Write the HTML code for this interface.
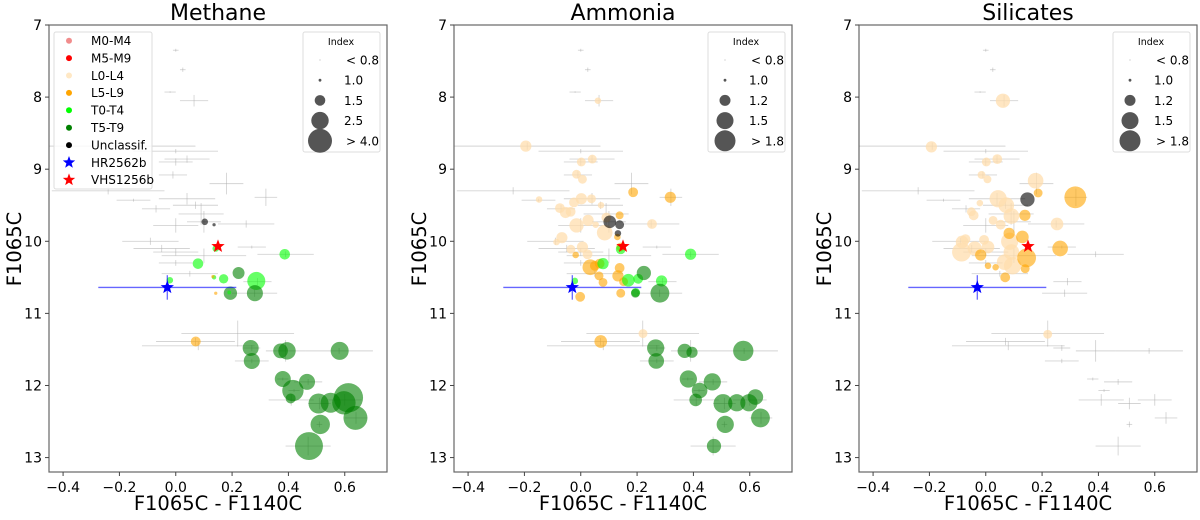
<!DOCTYPE html>
<html><head><meta charset="utf-8"><style>
body{margin:0;background:#fff;width:1200px;height:515px;overflow:hidden}
svg text{font-family:"DejaVu Sans","Liberation Sans",sans-serif}
</style></head><body>
<svg id="c" width="1200" height="515" viewBox="0 0 1200 515" xmlns="http://www.w3.org/2000/svg"></svg>
<script>
const xTicks=[-0.4,-0.2,0.0,0.2,0.4,0.6];
const yTicks=[7,8,9,10,11,12,13];
const panelTitles=["Methane","Ammonia","Silicates"];
const typeNames=["M0-M4","M5-M9","L0-L4","L5-L9","T0-T4","T5-T9","Unclassif."];
const typeColors=["#f08080","#ff0000","#ffdead","#ffa500","#00ff00","#008000","#000000"];
const methaneLegendIdx=[0.8,1.0,1.5,2.5,4.0];
const methaneLegendLabels=["< 0.8","1.0","1.5","2.5","> 4.0"];
const otherLegendIdx=[0.8,1.0,1.2,1.5,1.8];
const otherLegendLabels=["< 0.8","1.0","1.2","1.5","> 1.8"];
// error bars: x, y, xerr, yerr
const errBars=[[0.0,7.35,0.01,0.02],[0.025,7.62,0.01,0.03],[-0.02,7.93,0.02,0.01],[0.065,8.05,0.05,0.08],[-0.19,8.68,0.26,0.05],[0.0,8.75,0.15,0.03],[0.04,8.86,0.08,0.05],[0.0,8.9,0.06,0.05],[-0.01,9.08,0.05,0.05],[0.18,9.2,0.06,0.15],[-0.24,9.3,0.2,0.05],[0.32,9.39,0.04,0.12],[-0.15,9.43,0.06,0.02],[0.04,9.41,0.1,0.08],[0.07,9.5,0.08,0.05],[0.09,9.62,0.08,0.15],[-0.07,9.55,0.05,0.05],[0.0,9.78,0.08,0.1],[0.1,9.73,0.06,0.15],[0.25,9.76,0.1,0.05],[-0.09,10.0,0.1,0.05],[-0.05,10.1,0.1,0.05],[0.0,10.15,0.08,0.05],[0.27,10.08,0.05,0.02],[0.39,10.18,0.1,0.04],[0.1,10.2,0.15,0.1],[0.0,10.3,0.06,0.04],[0.05,10.45,0.1,0.04],[0.29,10.56,0.05,0.05],[0.28,10.72,0.08,0.05],[0.07,11.39,0.14,0.05],[0.22,11.28,0.2,0.18],[0.08,11.45,0.2,0.06],[0.27,11.48,0.03,0.04],[0.27,11.66,0.06,0.03],[0.39,11.52,0.07,0.15],[0.58,11.52,0.12,0.04],[0.38,11.91,0.02,0.02],[0.47,11.95,0.05,0.04],[0.42,12.07,0.02,0.02],[0.41,12.2,0.08,0.08],[0.51,12.25,0.04,0.08],[0.6,12.2,0.06,0.08],[0.64,12.45,0.04,0.08],[0.51,12.54,0.01,0.04],[0.47,12.84,0.08,0.13]];
// points: x, y, typeIndex, index value
const methanePts=[[0.103,9.73,6,1.24],[0.136,9.77,6,1.03],[0.142,10.10,4,1.24],[0.079,10.31,4,1.5],[0.387,10.18,4,1.5],[0.17,10.52,4,1.42],[0.136,10.50,4,1.1],[-0.021,10.54,4,1.24],[0.286,10.55,4,2.64],[0.223,10.44,5,1.7],[0.194,10.72,5,1.9],[0.19,10.71,4,1.07],[0.281,10.72,5,2.3],[0.266,11.48,5,2.3],[0.27,11.66,5,2.3],[0.372,11.52,5,2.1],[0.395,11.52,5,2.5],[0.582,11.52,5,2.64],[0.38,11.91,5,2.3],[0.416,12.07,5,3.4],[0.466,11.95,5,2.3],[0.408,12.18,5,1.46],[0.507,12.25,5,3.1],[0.55,12.24,5,3.1],[0.613,12.17,5,5.2],[0.597,12.24,5,3.86],[0.638,12.45,5,4.0],[0.513,12.54,5,2.95],[0.473,12.84,5,4.9],[0.071,11.39,3,1.46],[0.132,10.49,3,1.03],[0.142,10.72,3,1.03]];
const ammoniaPts=[[-0.195,8.68,2,1.17],[0.061,8.05,2,1.07],[0.002,8.90,2,1.12],[0.041,8.86,2,1.12],[-0.015,9.07,2,1.12],[0.006,9.14,2,1.12],[-0.148,9.42,2,1.07],[-0.024,9.46,2,1.14],[0.002,9.41,2,1.17],[0.038,9.41,2,1.12],[0.072,9.5,2,1.07],[-0.074,9.54,2,1.14],[-0.054,9.6,2,1.17],[-0.036,9.59,2,1.14],[-0.015,9.78,2,1.27],[0.026,9.71,2,1.17],[0.053,9.77,2,1.07],[0.085,9.88,2,1.33],[0.091,9.67,2,1.14],[0.253,9.76,2,1.14],[-0.067,9.95,2,1.17],[-0.086,10.01,2,1.07],[-0.035,10.11,2,1.12],[0.006,10.08,2,1.17],[0.024,10.18,2,1.14],[0.221,11.28,2,1.12],[0.186,9.32,3,1.14],[0.318,9.39,3,1.17],[0.138,9.64,3,1.1],[0.13,9.94,3,1.07],[0.142,10.08,3,1.12],[-0.018,10.19,3,1.07],[0.034,10.36,3,1.33],[0.067,10.31,3,1.14],[0.05,10.34,3,1.14],[0.138,10.37,3,1.14],[0.132,10.48,3,1.17],[0.065,10.48,3,1.12],[0.079,10.57,3,1.12],[0.152,10.56,3,1.12],[0.142,10.72,3,1.12],[-0.002,10.77,3,1.14],[0.071,11.39,3,1.2],[0.103,9.73,6,1.2],[0.138,9.77,6,1.12],[0.132,9.89,6,1.07],[0.142,10.11,4,1.14],[0.079,10.31,4,1.17],[0.39,10.18,4,1.17],[0.169,10.54,4,1.2],[0.204,10.52,4,1.14],[-0.021,10.55,4,1.07],[0.287,10.55,4,1.17],[0.195,10.71,4,1.12],[0.224,10.44,5,1.27],[0.194,10.72,5,1.12],[0.281,10.72,5,1.47],[0.266,11.48,5,1.4],[0.268,11.66,5,1.33],[0.369,11.52,5,1.27],[0.395,11.54,5,1.17],[0.577,11.52,5,1.55],[0.382,11.91,5,1.4],[0.422,12.07,5,1.33],[0.467,11.95,5,1.4],[0.408,12.2,5,1.2],[0.505,12.25,5,1.47],[0.554,12.24,5,1.4],[0.62,12.16,5,1.33],[0.597,12.24,5,1.4],[0.638,12.45,5,1.47],[0.513,12.54,5,1.4],[0.473,12.84,5,1.27]];
const silicatePts=[[0.061,8.05,2,1.27],[-0.193,8.69,2,1.17],[0.002,8.9,2,1.12],[0.041,8.86,2,1.14],[-0.015,9.08,2,1.1],[0.006,9.14,2,1.1],[0.177,9.16,2,1.33],[-0.021,9.47,2,1.07],[0.044,9.41,2,1.4],[0.073,9.5,2,1.33],[-0.051,9.59,2,1.12],[-0.043,9.64,2,1.14],[0.091,9.65,2,1.33],[0.026,9.71,2,1.12],[0.053,9.77,2,1.14],[0.253,9.76,2,1.2],[-0.084,10.01,2,1.2],[-0.072,9.97,2,1.14],[-0.086,10.15,2,1.47],[-0.039,10.1,2,1.27],[-0.006,9.98,2,1.14],[0.008,10.08,2,1.2],[0.085,10.0,2,1.4],[0.091,10.15,2,1.33],[0.067,10.29,2,1.33],[0.095,10.34,2,1.4],[0.22,11.29,2,1.12],[0.186,9.33,3,1.12],[0.318,9.39,3,1.65],[0.139,9.64,3,1.17],[0.083,9.89,3,1.17],[0.13,9.94,3,1.2],[0.145,10.23,3,1.47],[0.264,10.1,3,1.33],[-0.018,10.19,3,1.17],[0.008,10.34,3,1.07],[0.035,10.36,3,1.07],[0.069,10.5,3,1.14],[0.14,10.38,3,1.12],[0.148,9.42,6,1.27]];
const hr2562=[-0.03,10.64,0.245,0.17];
const vhs1256=[0.15,10.07];

const svg=document.getElementById('c');
const NS='http://www.w3.org/2000/svg';
function mk(tag,attrs,parent){const e=document.createElementNS(NS,tag);for(const k in attrs)e.setAttribute(k,attrs[k]);parent.appendChild(e);return e;}
const legendRadii=[0.5,1.4,5.3,8.7,12];
const legendRadiiO=[0.5,1.4,5.5,8.5,10.5];
function radius(idx,tbl,rad){
  if(idx<=tbl[0])return rad[0];
  for(let i=1;i<tbl.length;i++){if(idx<=tbl[i]){const t=(idx-tbl[i-1])/(tbl[i]-tbl[i-1]);return rad[i-1]+t*(rad[i]-rad[i-1]);}}
  const n=tbl.length-1;return rad[n]+(idx-tbl[n])*(rad[n]-rad[n-1])/(tbl[n]-tbl[n-1]);
}
function starPath(cx,cy,R){const r=R*0.42;let d='';for(let i=0;i<10;i++){const a=-Math.PI/2+i*Math.PI/5;const rr=i%2?r:R;d+=(i?'L':'M')+(cx+rr*Math.cos(a)).toFixed(2)+','+(cy+rr*Math.sin(a)).toFixed(2);}return d+'Z';}

const panels=[{off:0,pts:methanePts,tbl:methaneLegendIdx,lab:methaneLegendLabels,rad:legendRadii,lx:303,k:1},
{off:405,pts:ammoniaPts,tbl:otherLegendIdx,lab:otherLegendLabels,rad:legendRadiiO,lx:708,k:1.15},
{off:810,pts:silicatePts,tbl:otherLegendIdx,lab:otherLegendLabels,rad:legendRadiiO,lx:1113,k:1.15}];

panels.forEach((p,pi)=>{
  const L=49+p.off,R=387+p.off,T=25,B=472;
  const X0=-0.45,X1=0.75,Y0=7.0,Y1=13.2;
  const sx=v=>L+(v-X0)/(X1-X0)*(R-L);
  const sy=v=>T+(v-Y0)/(Y1-Y0)*(B-T);
  const g=mk('g',{},svg);
  
  
  const clip=mk('clipPath',{id:'cl'+pi},g);mk('rect',{x:L,y:T,width:R-L,height:B-T},clip);
  const plot=mk('g',{'clip-path':'url(#cl'+pi+')'},g);
  errBars.forEach(e=>{
    const eb=mk('g',{stroke:'#aaa','stroke-opacity':0.5,'stroke-width':0.9},plot);
    
    
    mk('line',{x1:sx(e[0]-e[2]),x2:sx(e[0]+e[2]),y1:sy(e[1]),y2:sy(e[1])},eb);
    mk('line',{x1:sx(e[0]),x2:sx(e[0]),y1:sy(e[1]-e[3]),y2:sy(e[1]+e[3])},eb);
  });
  p.pts.forEach(q=>{
    const c=mk('circle',{cx:sx(q[0]),cy:sy(q[1]),r:radius(q[3],p.tbl,p.rad)*p.k,fill:typeColors[q[2]],'fill-opacity':q[2]==2?0.75:0.6},plot);
    
    
  });
  const hb=mk('g',{stroke:'#0000ff','stroke-opacity':0.6,'stroke-width':1.3},plot);
  
  
  mk('line',{x1:sx(hr2562[0]-hr2562[2]),x2:sx(hr2562[0]+hr2562[2]),y1:sy(hr2562[1]),y2:sy(hr2562[1])},hb);
  mk('line',{x1:sx(hr2562[0]),x2:sx(hr2562[0]),y1:sy(hr2562[1]-hr2562[3]),y2:sy(hr2562[1]+hr2562[3])},hb);
  const s1=mk('path',{d:starPath(sx(hr2562[0]),sy(hr2562[1]),7),fill:'#0000ff'},plot);
  
  
  const s2=mk('path',{d:starPath(sx(vhs1256[0]),sy(vhs1256[1]),7),fill:'#ff0000'},plot);
  
  
  const fr=mk('rect',{x:L,y:T,width:R-L,height:B-T,fill:'none',stroke:'#666','stroke-width':1.2},g);
  
  
  xTicks.forEach(t=>{
    mk('line',{x1:sx(t),x2:sx(t),y1:B,y2:B+4,stroke:'#444'},g);
    const tx=mk('text',{x:sx(t),y:492,'font-size':14,'text-anchor':'middle'},g);
    tx.textContent=(t<0?'\u2212':'')+Math.abs(t).toFixed(1);
    
    
  });
  yTicks.forEach(t=>{
    mk('line',{x1:L-4,x2:L,y1:sy(t),y2:sy(t),stroke:'#444'},g);
    const tx=mk('text',{x:L-7,y:sy(t)+5,'font-size':14,'text-anchor':'end'},g);
    tx.textContent=t;
    
    
  });
  const ti=mk('text',{x:(L+R)/2,y:20,'font-size':22,'text-anchor':'middle'},g);
  ti.textContent=panelTitles[pi];
  
  
  const xl=mk('text',{x:(L+R)/2,y:510,'font-size':19.5,'text-anchor':'middle'},g);
  xl.textContent='F1065C - F1140C';
  
  
  const yl=mk('text',{x:0,y:0,'font-size':19.5,'text-anchor':'middle',transform:'translate('+(L-28)+',249) rotate(-90)'},g);
  yl.textContent='F1065C';
  
  
  const sl=mk('g',{},g);
  
  
  mk('rect',{x:p.lx,y:32,width:77,height:120,rx:2,fill:'#fff','fill-opacity':0.8,stroke:'#ddd'},sl);
  const it=mk('text',{x:p.lx+38,y:45,'font-size':9.5,'text-anchor':'middle'},sl);it.textContent='Index';
  p.tbl.forEach((v,i)=>{
    const yy=60+i*20.2;
    mk('circle',{cx:p.lx+17,cy:yy,r:i==0?0.4:p.rad[i],fill:'#555'},sl);
    const t=mk('text',{x:p.lx+(i==0||i==4?43:41),y:yy+4.5,'font-size':12},sl);t.textContent=p.lab[i];
  });
  if(pi===0){
    const lg=mk('g',{},g);
    
    
    mk('rect',{x:54,y:32,width:98,height:157,rx:2,fill:'#fff','fill-opacity':0.8,stroke:'#ddd'},lg);
    const names=typeNames.concat(['HR2562b','VHS1256b']);
    names.forEach((n,i)=>{
      const yy=40.7+i*17.4;
      if(i<7) mk('circle',{cx:69,cy:yy,r:3,fill:typeColors[i],'fill-opacity':i==2?0.7:(i==0?0.9:1)},lg);
      else mk('path',{d:starPath(69,yy,6.5),fill:i==7?'#0000ff':'#ff0000'},lg);
      const t=mk('text',{x:91,y:yy+4.3,'font-size':12},lg);t.textContent=n;
    });
  }
});
</script>
</body></html>
